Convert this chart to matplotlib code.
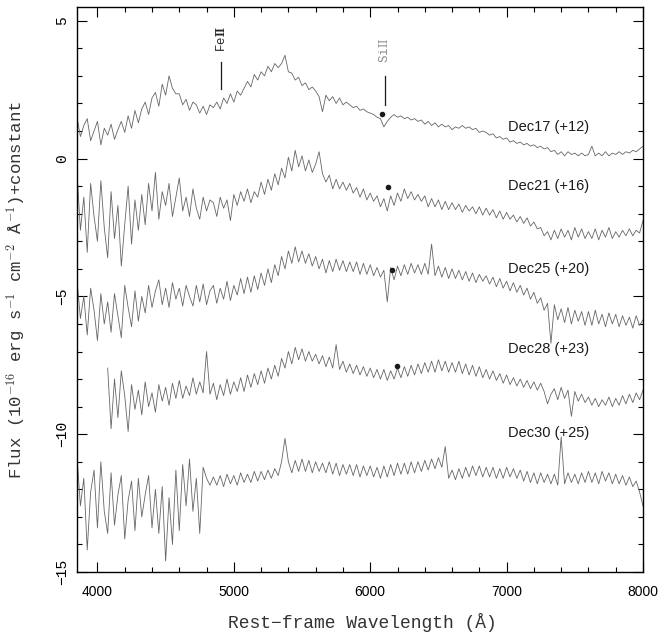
import numpy as np
import matplotlib
matplotlib.use("Agg")
import matplotlib.pyplot as plt
from matplotlib.ticker import MultipleLocator

plt.rcParams["mathtext.fontset"] = "cm"

# wavelength grid (Angstrom) shared by most epochs
wl = np.arange(3850, 8001, 25)
wl_dec28 = np.arange(4075, 8001, 25)

dec17 = [
    1.5, 0.8, 1.2, 1.45, 0.65, 1.0, 1.35, 0.5, 1.1, 0.85,
    1.25, 0.7, 1.05, 1.35, 0.95, 1.55, 1.1, 1.75, 1.3, 1.8,
    2.05, 1.6, 2.2, 2.4, 1.9, 2.7, 2.3, 3.0, 2.55, 2.35,
    2.35, 1.95, 2.15, 1.75, 2.05, 1.95, 1.65, 1.9, 1.6, 1.95,
    1.85, 2.05, 1.8, 2.2, 2.0, 2.35, 2.05, 2.45, 2.3, 2.55,
    2.8, 2.6, 3.05, 2.85, 3.15, 3.0, 3.35, 3.15, 3.45, 3.3,
    3.45, 3.75, 3.15, 3.1, 2.85, 2.95, 2.65, 2.75, 2.5, 2.6,
    2.45, 2.25, 1.7, 2.3, 2.1, 2.25, 2.0, 2.2, 1.95, 2.05,
    1.95, 1.85, 1.9, 1.75, 1.8, 1.7, 1.65, 1.6, 1.5, 1.45,
    1.15, 1.35, 1.5, 1.6, 1.5, 1.55, 1.45, 1.5, 1.4, 1.45,
    1.35, 1.4, 1.25, 1.35, 1.2, 1.3, 1.15, 1.25, 1.15, 1.2,
    1.05, 1.15, 1.1, 1.2, 1.1, 1.15, 1.05, 1.1, 0.95, 1.0,
    0.95, 0.85, 0.9, 0.75, 0.8, 0.7, 0.75, 0.6, 0.65, 0.55,
    0.6, 0.5, 0.55, 0.45, 0.5, 0.4, 0.45, 0.35, 0.4, 0.25,
    0.3, 0.15, 0.25, 0.1, 0.25, 0.15, 0.2, 0.1, 0.2, 0.1,
    0.15, 0.45, 0.1, 0.2, 0.1, 0.25, 0.1, 0.2, 0.15, 0.25,
    0.15, 0.25, 0.2, 0.3, 0.25, 0.35, 0.45,
]

dec21 = [
    -0.5, -2.6, -1.4, -3.4, -0.9, -2.1, -3.0, -0.8, -2.5, -3.6,
    -1.2, -2.9, -1.7, -3.9, -2.4, -1.0, -3.1, -1.5, -2.6, -1.3,
    -2.4, -0.9, -1.9, -0.5, -2.2, -1.2, -1.7, -0.9, -2.1, -1.4,
    -0.7, -1.9, -1.4, -2.1, -1.1, -1.8, -2.2, -1.4, -1.9, -1.5,
    -1.6, -2.1, -1.4, -1.8, -1.5, -2.25, -1.3, -1.7, -1.2, -1.55,
    -1.1, -1.6, -1.2, -1.4, -0.85, -1.3, -0.75, -1.15, -0.55, -0.95,
    -0.35, -0.7, 0.05, -0.45, 0.3, -0.3, 0.1, -0.45, -0.05, -0.5,
    -0.2, 0.25, -0.55, -0.85, -0.6, -1.1, -0.75, -1.1, -0.85, -1.15,
    -0.9, -1.25, -1.05, -1.4, -1.1, -1.5, -1.25, -1.55, -1.35, -1.75,
    -1.45, -1.9, -1.35, -1.7, -1.25, -1.55, -1.1, -1.45, -1.2, -1.5,
    -1.3, -1.55, -1.35, -1.75, -1.45, -1.75, -1.5, -1.85, -1.55, -1.85,
    -1.6, -1.85, -1.65, -1.95, -1.7, -1.9, -1.75, -2.0, -1.75, -2.05,
    -1.8, -2.05, -1.85, -2.15, -1.9, -2.2, -1.95, -2.2, -2.05, -2.3,
    -2.1, -2.35, -2.15, -2.45, -2.3, -2.55, -2.5, -2.8, -2.65, -2.95,
    -2.6, -2.9, -2.55, -2.85, -2.6, -2.95, -2.5, -2.85, -2.55, -2.9,
    -2.65, -2.9, -2.55, -2.95, -2.6, -2.85, -2.5, -2.9, -2.65, -2.85,
    -2.6, -2.8, -2.55, -2.8, -2.6, -2.7, -2.25,
]

dec25 = [
    -4.4, -5.8, -5.0, -6.4, -4.7, -5.5, -6.6, -4.9, -6.0, -5.2,
    -6.3, -4.9, -5.7, -6.5, -4.6, -5.4, -6.1, -4.8, -5.9, -5.0,
    -5.6, -4.6, -5.4, -4.8, -4.4, -5.3, -4.7, -5.4, -4.5, -5.1,
    -4.7, -5.35, -4.6, -5.0, -5.35, -4.6, -5.2, -4.55, -5.3, -4.8,
    -4.6, -5.25, -4.7, -5.1, -4.45, -5.15, -4.6, -4.95, -4.35, -4.9,
    -4.3, -4.85, -4.25, -4.75, -4.15, -4.6, -4.0, -4.5, -3.85, -4.25,
    -3.55, -4.0, -3.35, -3.8, -3.2, -3.75, -3.35, -3.8, -3.45, -3.9,
    -3.55, -4.0, -3.65, -4.15, -3.7, -4.1, -3.65, -4.05, -3.7, -4.1,
    -3.75, -4.1, -3.75, -4.2, -3.8, -4.2, -3.85, -4.25, -3.95, -4.3,
    -4.05, -5.2, -3.95, -4.4, -3.9, -4.25, -3.85, -4.2, -3.8, -4.15,
    -3.85, -4.2, -3.8, -4.2, -3.1, -4.25, -3.9, -4.3, -3.95, -4.35,
    -4.0, -4.35, -4.05, -4.4, -4.1, -4.45, -4.15, -4.5, -4.2, -4.45,
    -4.25, -4.55, -4.3, -4.65, -4.35, -4.7, -4.45, -4.8, -4.5, -4.85,
    -4.6, -4.95, -4.7, -5.1, -4.85, -5.25, -5.05, -5.5, -5.25, -6.7,
    -5.3, -5.85, -5.45, -5.95, -5.4, -6.0, -5.5, -5.9, -5.55, -6.05,
    -5.55, -6.05, -5.5, -6.0, -5.65, -6.1, -5.6, -6.0, -5.65, -6.1,
    -5.7, -6.05, -5.75, -6.15, -5.7, -6.05, -5.85,
]

dec28 = [
    -7.6,
    -9.8, -8.0, -9.4, -7.7, -8.6, -9.9, -8.2, -9.1, -8.4, -9.3,
    -8.1, -9.0, -8.5, -9.2, -8.2, -8.8, -8.3, -8.95, -8.15, -8.7,
    -8.05, -8.7, -8.25, -8.6, -7.95, -8.55, -8.1, -8.5, -7.0, -8.55,
    -8.15, -8.75, -8.2, -8.6, -8.0, -8.55, -8.1, -8.45, -7.95, -8.45,
    -7.85, -8.3, -7.8, -8.2, -7.7, -8.15, -7.6, -8.0, -7.5, -7.9,
    -7.25, -7.6, -7.0, -7.45, -6.85, -7.3, -6.9, -7.35, -7.0, -7.35,
    -7.1, -7.45, -7.15, -7.55, -7.2, -7.6, -6.75, -7.65, -7.35, -7.75,
    -7.45, -7.8, -7.5, -7.85, -7.55, -7.9, -7.6, -7.95, -7.65, -8.0,
    -7.65, -8.05, -7.7, -8.0, -7.6, -7.95, -7.55, -7.9, -7.5, -7.85,
    -7.45, -7.8, -7.4, -7.75, -7.35, -7.75, -7.3, -7.7, -7.35, -7.75,
    -7.4, -7.75, -7.35, -7.8, -7.45, -7.85, -7.5, -7.9, -7.55, -7.95,
    -7.65, -8.0, -7.7, -8.05, -7.8, -8.15, -7.85, -8.2, -7.95, -8.25,
    -8.0, -8.3, -8.05, -8.35, -8.1, -8.4, -8.15, -8.45, -8.9, -8.55,
    -8.35, -8.75, -8.3, -8.7, -8.4, -9.35, -8.45, -8.8, -8.55, -8.85,
    -8.65, -8.95, -8.7, -9.0, -8.75, -8.95, -8.65, -9.0, -8.7, -8.95,
    -8.6, -8.9, -8.55, -8.85, -8.5, -8.75, -8.4,
]

dec30 = [
    -10.8, -12.6, -11.6, -14.2, -12.1, -11.3, -13.4, -11.0, -12.8, -13.6,
    -11.4, -13.3, -12.2, -11.5, -13.8, -12.4, -11.7, -13.5, -11.6, -13.0,
    -12.2, -11.5, -13.4, -12.0, -13.6, -11.9, -14.6, -12.3, -14.0, -11.3,
    -13.5, -11.1, -12.6, -10.9, -12.8, -11.6, -13.6, -11.2, -11.6, -11.85,
    -11.55, -11.85, -11.5, -11.9, -11.45, -11.8, -11.5, -11.85, -11.4, -11.75,
    -11.45, -11.75, -11.35, -11.7, -11.35, -11.65, -11.3, -11.6, -11.25, -11.5,
    -11.0, -10.15, -11.0, -11.4, -10.95, -11.35, -10.9, -11.35, -10.95, -11.4,
    -11.0, -11.35, -11.05, -11.4, -11.0, -11.45, -11.05, -11.5, -11.1, -11.45,
    -11.1, -11.5, -11.1, -11.55, -11.15, -11.5, -11.15, -11.55, -11.2, -11.6,
    -11.15, -11.55, -11.1, -11.5, -11.05, -11.45, -11.05, -11.45, -11.0, -11.4,
    -11.0, -11.35, -10.95, -11.3, -10.9, -11.25, -10.85, -11.2, -10.45, -11.6,
    -11.3, -11.65, -11.25, -11.6, -11.2, -11.55, -11.15, -11.5, -11.15, -11.55,
    -11.2, -11.55, -11.2, -11.6, -11.25, -11.6, -11.2, -11.55, -11.25, -11.6,
    -11.3, -11.7, -11.35, -11.75, -11.4, -11.8, -11.4, -11.75, -11.45, -11.8,
    -11.45, -11.85, -10.1, -11.8, -11.4, -11.75, -11.45, -11.8, -11.4, -11.75,
    -11.35, -11.75, -11.4, -11.8, -11.35, -11.7, -11.4, -11.8, -11.45, -11.8,
    -11.5, -11.85, -11.55, -11.9, -11.7, -12.1, -12.6,
]

epoch_labels = ["Dec17 (+12)", "Dec21 (+16)", "Dec25 (+20)", "Dec28 (+23)", "Dec30 (+25)"]
label_y = [1.13, -1.0, -4.0, -6.9, -9.95]

# Si II absorption minima (dots)
si_wl = [6086, 6130, 6160, 6196]
si_flux = [1.6, -1.02, -4.04, -7.53]

fig = plt.figure(figsize=(6.62, 6.37), dpi=100)
ax = fig.add_axes([0.1163, 0.102, 0.855, 0.887])

spec_color = "0.4"
ax.plot(wl, dec17, color=spec_color, lw=0.6)
ax.plot(wl, dec21, color=spec_color, lw=0.6)
ax.plot(wl, dec25, color=spec_color, lw=0.6)
ax.plot(wl_dec28, dec28, color=spec_color, lw=0.6)
ax.plot(wl, dec30, color=spec_color, lw=0.6)

ax.plot(si_wl, si_flux, "o", color="0.1", ms=4, mec="none")

for lab, yy in zip(epoch_labels, label_y):
    ax.text(7010, yy, lab, fontsize=10.5, family="Liberation Sans",
            va="center", ha="left", color="0.1")

# line identifications
ax.plot([4906, 4906], [2.51, 3.49], color="0.1", lw=0.9)
ax.text(4906, 4.36, "Fe$\\mathbf{II}$", rotation=90, ha="center", va="center",
        fontsize=9, family="Liberation Mono", color="0.15")
ax.plot([6108, 6108], [1.96, 2.98], color="0.1", lw=0.9)
ax.text(6108, 3.93, "Si$\\mathrm{II}$", rotation=90, ha="center", va="center",
        fontsize=9, family="Liberation Mono", color="0.55")

ax.set_xlim(3850, 8000)
ax.set_ylim(-15, 5.5)
ax.xaxis.set_major_locator(MultipleLocator(1000))
ax.xaxis.set_minor_locator(MultipleLocator(200))
ax.yaxis.set_major_locator(MultipleLocator(5))
ax.yaxis.set_minor_locator(MultipleLocator(1))
ax.tick_params(which="both", direction="in", top=True, right=True, width=0.8)
ax.tick_params(which="major", length=7)
ax.tick_params(which="minor", length=3.6)
ax.tick_params(axis="x", labelsize=10, pad=9)
ax.tick_params(axis="y", labelsize=10.5, labelrotation=90, pad=6)
for t in ax.get_xticklabels():
    t.set_family("Liberation Sans")
for t in ax.get_yticklabels():
    t.set_family("Liberation Mono")
    t.set_verticalalignment("center")
for s in ax.spines.values():
    s.set_linewidth(1.0)

ax.set_xlabel("Rest\u2212frame Wavelength (\u00c5)", family="Liberation Mono",
              fontsize=13, color="0.2")
ax.xaxis.set_label_coords(0.505, -0.072)
ax.set_ylabel("Flux (10$^{-16}$ erg s$^{-1}$ cm$^{-2}$ \u00c5$^{-1}$)+constant",
              family="Liberation Mono", fontsize=12.5, color="0.2")
ax.yaxis.set_label_coords(-0.087, 0.5)

fig.savefig("out.png", dpi=100)
